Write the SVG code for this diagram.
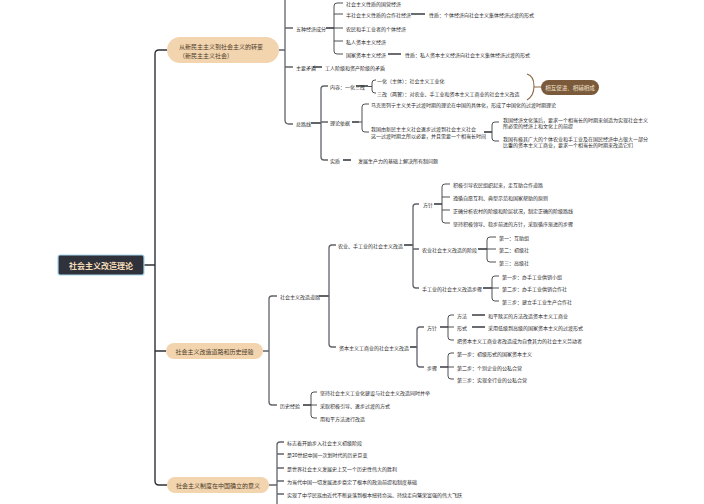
<svg xmlns="http://www.w3.org/2000/svg" width="704" height="504" viewBox="0 0 704 504">
<style>
text{font-family:"Noto Sans CJK SC","Noto Sans",sans-serif;dominant-baseline:central}
.t{font-size:5px;fill:#2b2b2b}
.p{font-size:6px;fill:#4a3a2a}
.c1{fill:none;stroke:#2e3036;stroke-width:1.4}
.c2{fill:none;stroke:#60636a;stroke-width:1.3}
.c3{fill:none;stroke:#3a3c42;stroke-width:0.9}
.s{fill:none;stroke:#3a3c42;stroke-width:1.6}
.pill{fill:#f2d4ae}
</style>
<rect width="704" height="504" fill="#ffffff"/>
<g id="connectors">
<path class="c1" d="M143 265H155M167 50H159Q155 50 155 54V481Q155 485 159 485H167M155 351H166"/>
<path class="c2" d="M279 50H285M285 -10V120Q285 124 289 124H293M285 28H293M285 67H293"/>
<path class="s" d="M326 28H334"/>
<path class="c3" d="M343 3H337Q334 3 334 6V51Q334 54 337 54H343M334 14H343M334 28H343M334 41H343"/>
<path class="s" d="M411 14H425M388 54H401M313 67H322"/>
<path class="s" d="M311 123H321"/>
<path class="c2" d="M328 86H324Q321 86 321 89V157Q321 160 324 160H328M321 122H328"/>
<path class="s" d="M356 86H368"/>
<path class="c3" d="M376 80H375Q372 80 372 83V90Q372 93 375 93H376M368 86.5H372"/>
<path class="s" d="M352 122H359"/>
<path class="c3" d="M369 104H365Q362 104 362 107V129Q362 132 365 132H369M359 122H362"/>
<path class="s" d="M484 132H492"/>
<path class="c3" d="M499 122H495Q492 122 492 125V138Q492 141 495 141H499"/>
<path class="s" d="M343 160H351"/>
<path fill="none" stroke="#8a6a4a" stroke-width="1.1" d="M527 74Q534 76 534 86Q534 96 527 100M534 87H541"/>
<path class="c2" d="M263 351H269M277 296H272Q269 296 269 299V402Q269 405 272 405H277"/>
<path class="s" d="M319 296H329"/>
<path class="c2" d="M336 245H332Q329 245 329 248V344Q329 347 332 347H336"/>
<path class="s" d="M404 245H413"/>
<path class="c2" d="M419 204H416Q413 204 413 207V285Q413 288 416 288H419M413 249H419"/>
<path class="s" d="M434 204H442"/>
<path class="c3" d="M450 184H445Q442 184 442 187V220Q442 223 445 223H450M442 197H450M442 210H450"/>
<path class="s" d="M478 249H487"/>
<path class="c3" d="M496 237H490Q487 237 487 240V259Q487 262 490 262H496M487 249H496"/>
<path class="s" d="M483 288H492"/>
<path class="c3" d="M499 276H495Q492 276 492 279V298Q492 301 495 301H499M492 288H499"/>
<path class="s" d="M410 347H417"/>
<path class="c2" d="M424 327H420Q417 327 417 330V364Q417 367 420 367H424"/>
<path class="s" d="M440 327H448M440 367H448"/>
<path class="c3" d="M454 315H451Q448 315 448 318V337Q448 340 451 340H454M448 327H454"/>
<path class="s" d="M472 315H485M472 327H485"/>
<path class="c3" d="M454 353H451Q448 353 448 356V376Q448 379 451 379H454M448 367H454"/>
<path class="s" d="M303 405H311"/>
<path class="c3" d="M317 392H314Q311 392 311 395V415Q311 418 314 418H317M311 405H317"/>
<path class="c2" d="M269 485H277M284 442H280Q277 442 277 445V510M277 454H284M277 468H284M277 481H284M277 494H284"/>
</g>
<g id="root">
<rect x="58" y="255" width="86" height="20" rx="2" fill="#2f323a" stroke="#a8d8f0" stroke-width="1.2"/>
<text x="101" y="265" text-anchor="middle" style="font-size:8px;font-weight:bold;fill:#f5dcb8">社会主义改造理论</text>
</g>
<g id="b1">
<rect class="pill" x="167" y="37" width="112" height="26" rx="13"/>
<text class="p" x="179" y="46">从新民主主义到社会主义的转变</text>
<text class="p" x="179" y="55">（新民主主义社会）</text>
</g>
<g id="b1-five">
<text class="t" x="296" y="28">五种经济成分</text>
<text class="t" x="346" y="3">社会主义性质的国营经济</text>
<text class="t" x="346" y="14">半社会主义性质的合作社经济</text>
<text class="t" x="429" y="14">性质：个体经济向社会主义集体经济过渡的形式</text>
<text class="t" x="346" y="28">农民和手工业者的个体经济</text>
<text class="t" x="346" y="41">私人资本主义经济</text>
<text class="t" x="346" y="54">国家资本主义经济</text>
<text class="t" x="405" y="54">性质：私人资本主义经济向社会主义集体经济过渡的形式</text>
</g>
<g id="b1-contra">
<text class="t" x="296" y="67">主要矛盾</text>
<text class="t" x="325" y="67">工人阶级和资产阶级的矛盾</text>
</g>
<g id="b1-line">
<text class="t" x="296" y="123">总路线</text>
<text class="t" x="330" y="86">内容：一化三改</text>
<text class="t" x="377" y="80">一化（主体）：社会主义工业化</text>
<text class="t" x="377" y="93">三改（两翼）：对农业、手工业和资本主义工商业的社会主义改造</text>
<text class="t" x="330" y="122">理论依据</text>
<text class="t" x="371" y="104">马克思列宁主义关于过渡时期的理论在中国的具体化，形成了中国化的过渡时期理论</text>
<text class="t" x="371" y="128">我国由新民主主义社会逐步过渡到社会主义社会</text>
<text class="t" x="371" y="135">这一过渡时期之所以必要，并且需要一个相当长时间</text>
<text class="t" x="503" y="119">我国经济文化落后，要求一个相当长的时期来创造为实现社会主义</text>
<text class="t" x="503" y="125">所必需的经济上和文化上的前提</text>
<text class="t" x="503" y="138">我国有极其广大的个体农业和手工业及在国民经济中占很大一部分</text>
<text class="t" x="503" y="144">比重的资本主义工商业，要求一个相当长的时期来改造它们</text>
<text class="t" x="330" y="160">实质</text>
<text class="t" x="358" y="160">发展生产力的基础上解决所有制问题</text>
</g>
<g id="summary">
<rect x="541" y="80" width="58" height="15" rx="7.5" fill="#7b5a3c"/>
<text x="570" y="87.5" text-anchor="middle" style="font-size:5.5px;fill:#f3e3cc">相互促进、相辅相成</text>
</g>
<g id="b2">
<rect class="pill" x="166" y="343" width="97" height="16" rx="8"/>
<text class="p" x="214.5" y="351" text-anchor="middle">社会主义改造道路和历史经验</text>
</g>
<g id="b2-road">
<text class="t" x="280" y="296">社会主义改造道路</text>
<text class="t" x="338" y="245">农业、手工业的社会主义改造</text>
<text class="t" x="423" y="204">方针</text>
<text class="t" x="453" y="184">积极引导农民组织起来，走互助合作道路</text>
<text class="t" x="453" y="197">遵循自愿互利、典型示范和国家帮助的原则</text>
<text class="t" x="453" y="210">正确分析农村的阶级和阶层状况，制定正确的阶级路线</text>
<text class="t" x="453" y="223">坚持积极领导、稳步前进的方针，采取循序渐进的步骤</text>
<text class="t" x="422" y="249">农业社会主义改造的阶段</text>
<text class="t" x="499" y="237">第一：互助组</text>
<text class="t" x="499" y="249">第二：初级社</text>
<text class="t" x="499" y="262">第三：高级社</text>
<text class="t" x="422" y="288">手工业的社会主义改造步骤</text>
<text class="t" x="502" y="276">第一步：办手工业供销小组</text>
<text class="t" x="502" y="288">第二步：办手工业供销合作社</text>
<text class="t" x="502" y="301">第三步：建立手工业生产合作社</text>
<text class="t" x="339" y="347">资本主义工商业的社会主义改造</text>
<text class="t" x="427" y="327">方针</text>
<text class="t" x="457" y="315">方法</text>
<text class="t" x="488" y="315">和平赎买的方法改造资本主义工商业</text>
<text class="t" x="457" y="327">形式</text>
<text class="t" x="488" y="327">采用低级到高级的国家资本主义的过渡形式</text>
<text class="t" x="457" y="340">把资本主义工商业者改造成为自食其力的社会主义劳动者</text>
<text class="t" x="427" y="367">步骤</text>
<text class="t" x="457" y="353">第一步：初级形式的国家资本主义</text>
<text class="t" x="457" y="367">第二步：个别企业的公私合营</text>
<text class="t" x="457" y="379">第三步：实现全行业的公私合营</text>
</g>
<g id="b2-exp">
<text class="t" x="280" y="405">历史经验</text>
<text class="t" x="320" y="392">坚持社会主义工业化建设与社会主义改造同时并举</text>
<text class="t" x="320" y="405">采取积极引导、逐步过渡的方式</text>
<text class="t" x="320" y="418">用和平方法进行改造</text>
</g>
<g id="b3">
<rect class="pill" x="167" y="477" width="102" height="16" rx="8"/>
<text class="p" x="218" y="485" text-anchor="middle">社会主义制度在中国确立的意义</text>
<text class="t" x="287" y="442">标志着开始步入社会主义初级阶段</text>
<text class="t" x="287" y="454">是20世纪中国一次划时代的历史巨变</text>
<text class="t" x="287" y="468">是世界社会主义发展史上又一个历史性伟大的胜利</text>
<text class="t" x="287" y="481">为当代中国一切发展进步奠定了根本的政治前提和制度基础</text>
<text class="t" x="287" y="494">实现了中华民族由近代不断衰落到根本扭转命运、持续走向繁荣富强的伟大飞跃</text>
</g>
</svg>
